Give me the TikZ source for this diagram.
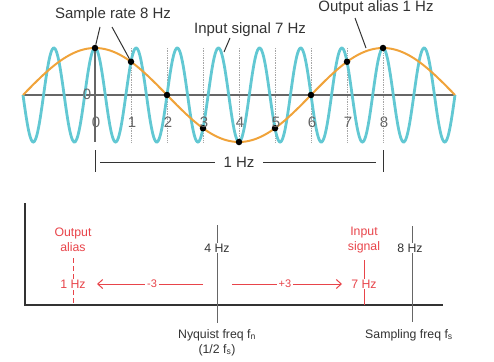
\documentclass[tikz,border=0pt]{standalone}
\usepackage{fontspec}
\setmainfont{Liberation Sans}
\usetikzlibrary{arrows.meta,calc}
\definecolor{cyanw}{HTML}{62C8D3}
\definecolor{orangew}{HTML}{F0A33A}
\definecolor{redw}{HTML}{E8444A}
\definecolor{txt}{HTML}{333333}
\definecolor{axg}{HTML}{666666}
\tikzset{
  lbl/.style={text=txt,font=\fontsize{15}{17}\selectfont,inner sep=1pt},
  num/.style={text=axg,font=\fontsize{15}{17}\selectfont,inner sep=0pt},
  blbl/.style={text=txt,font=\fontsize{12.3}{14}\selectfont,inner sep=1pt,fill=white},
  rlbl/.style={text=redw,font=\fontsize{12.3}{14}\selectfont,inner sep=1pt,fill=white},
  slbl/.style={text=redw,font=\fontsize{11}{12}\selectfont,inner sep=2pt,fill=white},
  dot/.style={circle,fill=black,inner sep=0pt,minimum size=6.5pt},
  leader/.style={draw=txt,line width=1pt},
  grid/.style={draw=gray!70,densely dotted,line width=0.7pt},
  ax/.style={draw=axg,line width=1.5pt},
  vline/.style={draw=gray!80!black,line width=1pt},
  redarrow/.style={draw=redw,line width=1pt,-{Straight Barb[length=5pt,width=9pt]}},
}
\begin{document}
\begin{tikzpicture}[x=1pt,y=-1pt]
\useasboundingbox (0,0) rectangle (494,361);
% ---------- top plot ----------
\foreach \k in {1,...,8}{
  \draw[grid] ({95+36*\k},48) -- ({95+36*\k},142);
}
\draw[ax] (24,95) -- (454,95);
\draw[draw=axg,line width=1.2pt] (95,48) -- (95,142);
\draw[cyanw,line width=2.8pt,smooth] plot[domain=23:455,samples=500] (\x,{95-47*cos(8.75*(\x-95))});
\draw[orangew,line width=2pt,smooth] plot[domain=23:455,samples=150] (\x,{95-47*cos(1.25*(\x-95))});
\foreach \k in {0,...,8}{
  \node[dot] (s\k) at ({95+36*\k},{95-47*cos(45*\k)}) {};
  \node[num] (n\k) at ({96+36*\k},122) {\k};
}
\node[num] (zero) at (87,94) {0};
% labels
\node[lbl] (srate) at (113,15) {Sample rate 8 Hz};
\coordinate (a1) at (100,27);
\coordinate (a2) at (112,27);
\draw[leader] (a1) -- (s0);
\draw[leader] (a2) -- (s1);
\node[lbl] (insig) at (250,30) {Input signal 7 Hz};
\coordinate (b1) at (230,38);
\coordinate (b2) at (224,52);
\draw[leader] (b1) -- (b2);
\node[lbl] (outal) at (376,8) {Output alias 1 Hz};
\coordinate (c1) at (355,18);
\coordinate (c2) at (366,48);
\draw[leader] (c1) -- (c2);
% 1 Hz span
\coordinate (t0a) at (95,150); \coordinate (t0b) at (95,172);
\coordinate (t8a) at (383,150); \coordinate (t8b) at (383,172);
\draw[draw=txt,line width=1pt] (t0a) -- (t0b);
\draw[draw=txt,line width=1pt] (t8a) -- (t8b);
\node[lbl] (onehz) at (239,162) {1 Hz};
\coordinate (h1) at (100,162); \coordinate (h2) at (215,162);
\coordinate (h3) at (263,162); \coordinate (h4) at (376,162);
\draw[draw=txt,line width=1pt] (h1) -- (h2);
\draw[draw=txt,line width=1pt] (h3) -- (h4);
% ---------- bottom plot ----------
\coordinate (yt) at (25,203);
\coordinate (org) at (25,305);
\coordinate (xr) at (443,305);
\draw[draw=txt,line width=1.5pt] (yt) -- (org) -- (xr);
% 4 Hz
\coordinate (f4a) at (217,225); \coordinate (f4b) at (217,323);
\draw[vline] (f4a) -- (f4b);
\node[blbl] (f4) at (217,248) {4 Hz};
% 8 Hz
\coordinate (f8a) at (412,226); \coordinate (f8b) at (412,322);
\draw[vline] (f8a) -- (f8b);
\node[blbl] (f8) at (410,248) {8 Hz};
% 1 Hz alias (dashed)
\coordinate (f1a) at (73,258); \coordinate (f1b) at (73,305);
\draw[draw=redw,line width=1pt,dash pattern=on 5pt off 3pt] (f1a) -- (f1b);
\node[rlbl] (f1) at (73,284) {1 Hz};
\node[text=redw,font=\fontsize{12.3}{15}\selectfont,align=center,inner sep=0pt] (oal) at (73,240) {Output\\alias};
% 7 Hz input
\coordinate (f7a) at (364,260); \coordinate (f7b) at (364,305);
\draw[draw=redw,line width=1pt] (f7a) -- (f7b);
\node[rlbl] (f7) at (364,284) {7 Hz};
\node[text=redw,font=\fontsize{12.3}{15}\selectfont,align=center,inner sep=0pt] (isg) at (364,240) {Input\\signal};
% arrows
\coordinate (la) at (203,284); \coordinate (lb) at (97,284);
\draw[redarrow] (la) -- (lb);
\node[slbl] (m3) at (152,284) {-3};
\coordinate (ra) at (232,284); \coordinate (rb) at (342,284);
\draw[redarrow] (ra) -- (rb);
\node[slbl] (p3) at (285,284) {+3};
% bottom captions
\node[blbl] (nyq) at (217,335) {Nyquist freq f\textsubscript{n}};
\node[blbl] (half) at (217,350) {(1/2 f\textsubscript{s})};
\node[blbl] (samp) at (409,335) {Sampling freq f\textsubscript{s}};
\end{tikzpicture}
\end{document}
